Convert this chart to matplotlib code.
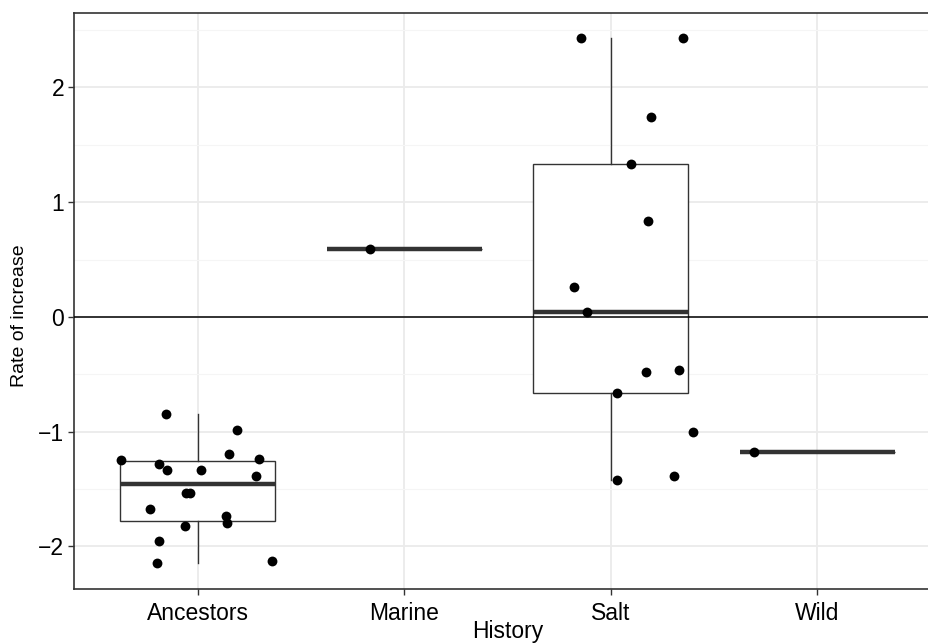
import numpy as np
import matplotlib.pyplot as plt

plt.rcParams['font.family'] = ['Liberation Sans', 'DejaVu Sans']

categories = ["Ancestors", "Marine", "Salt", "Wild"]

ancestors = [-0.847, -0.984, -1.199, -1.234, -1.249, -1.281, -1.336, -1.336, -1.386,
             -1.534, -1.534, -1.671, -1.735, -1.793, -1.822, -1.956, -2.143, -2.128]
ancestors_jit = [-0.154, 0.191, 0.150, 0.298, -0.372, -0.186, -0.150, 0.013, 0.282,
                 -0.057, -0.040, -0.234, 0.134, 0.142, -0.060, -0.189, -0.199, 0.359]
marine = [0.59]
marine_jit = [-0.165]
salt = [2.428, 2.428, 1.738, 1.336, 0.838, 0.259, 0.044, -0.480, -0.463,
        -0.661, -0.999, -1.418, -1.389]
salt_jit = [-0.142, 0.349, 0.197, 0.100, 0.181, -0.180, -0.115, 0.170, 0.331,
            0.031, 0.398, 0.031, 0.307]
wild = [-1.18]
wild_jit = [-0.308]

groups = [ancestors, marine, salt, wild]
jitters = [ancestors_jit, marine_jit, salt_jit, wild_jit]

fig = plt.figure(figsize=(9.29, 6.44), dpi=100)
ax = fig.add_axes([74/929, 55/644, 867/929, 576/644])

dark = '#333333'
ax.boxplot(groups, positions=[1, 2, 3, 4], widths=0.75, whis=1.5,
           showcaps=False, showfliers=False, patch_artist=True,
           boxprops=dict(facecolor='white', edgecolor=dark, linewidth=1.0),
           whiskerprops=dict(color=dark, linewidth=1.0),
           medianprops=dict(color=dark, linewidth=3.2, solid_capstyle='butt'),
           zorder=2)

ax.axhline(0, color='black', linewidth=1.1, zorder=3)

for i, (vals, jit) in enumerate(zip(groups, jitters)):
    ax.scatter(np.array(jit) + i + 1, vals, s=50, color='black', zorder=4, linewidths=0)

ax.set_xlim(0.4, 4.6)
ax.set_ylim(-2.371, 2.648)
ax.set_xticks([1, 2, 3, 4])
ax.set_xticklabels(categories)
ax.set_yticks([-2, -1, 0, 1, 2])
ax.set_yticklabels(["\u22122", "\u22121", "0", "1", "2"])
ax.set_yticks([-1.5, -0.5, 0.5, 1.5, 2.5], minor=True)

ax.grid(True, which='major', color='#ebebeb', linewidth=1.3, zorder=0)
ax.grid(True, which='minor', axis='y', color='#f5f5f5', linewidth=0.8, zorder=0)
ax.set_axisbelow(True)

for side in ['left', 'top', 'bottom', 'right']:
    ax.spines[side].set_color(dark)
    ax.spines[side].set_linewidth(1.2)

ax.tick_params(axis='both', which='major', length=4, width=1.0, color=dark,
               labelsize=16.5, labelcolor='black')
ax.tick_params(axis='x', pad=5)
ax.tick_params(axis='y', pad=3)
ax.tick_params(which='minor', length=0)

ax.set_xlabel("History", fontsize=16.5, labelpad=-3)
ax.set_ylabel("Rate of increase", fontsize=14)
ax.yaxis.set_label_coords(-0.053, 0.474)

fig.savefig("out.png", dpi=100)
